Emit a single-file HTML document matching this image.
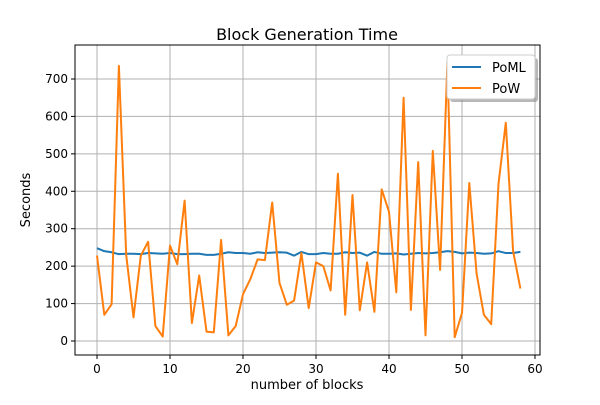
<!DOCTYPE html>
<html><head><meta charset="utf-8"><style>
body{margin:0;background:#fff;font-family:"Liberation Sans","DejaVu Sans",sans-serif}
svg text{font-family:"DejaVu Sans","Liberation Sans",sans-serif}
</style></head><body>
<svg id="c" width="600" height="400" xmlns="http://www.w3.org/2000/svg">
<rect width="600" height="400" fill="#fff"/>
<text x="307" y="40" text-anchor="middle" font-size="16">Block Generation Time</text>
<text x="307" y="389" text-anchor="middle" font-size="13">number of blocks</text>
<text x="30" y="200" text-anchor="middle" font-size="13" transform="rotate(-90 30 200)">Seconds</text>
<g id="grid"></g><g id="series"></g>
<rect x="75" y="45" width="465" height="310" fill="none" stroke="#000" stroke-width="1"/>
<g>
<rect x="450" y="58" width="88" height="44" rx="3" fill="#888" opacity="0.6"/>
<rect x="447" y="55" width="88" height="44" rx="3" fill="#fff" stroke="#ccc"/>
<line x1="452" y1="67" x2="481" y2="67" stroke="#1f77b4" stroke-width="2"/>
<text x="492" y="72" font-size="13">PoML</text>
<line x1="452" y1="88" x2="481" y2="88" stroke="#ff7f0e" stroke-width="2"/>
<text x="492" y="93" font-size="13">PoW</text>
</g>
</svg>
<script>
const xTicks=[0,10,20,30,40,50,60];
const yTicks=[0,100,200,300,400,500,600,700];
const powValues=[228,70,98,735,230,63,228,265,40,12,255,205,375,48,175,25,23,270,15,40,125,165,218,216,370,155,97,108,235,88,210,200,135,447,70,390,82,210,78,405,345,130,650,83,478,15,508,190,745,10,75,422,180,70,45,420,583,240,140];
const pomlValues=[248,240,237,232,233,233,232,235,234,233,235,232,232,233,233,230,230,233,237,235,235,233,237,235,236,237,236,228,238,232,232,235,233,233,237,235,236,228,238,233,233,234,231,233,235,234,235,237,240,238,234,236,235,233,234,240,235,235,238];
const NS="http://www.w3.org/2000/svg";
const xs=v=>97+v*7.3, ys=v=>341-v*0.3743;
const grid=document.getElementById('grid'), svg=document.getElementById('c');
function mk(t,a,p){const e=document.createElementNS(NS,t);for(const k in a)e.setAttribute(k,a[k]);p.appendChild(e);return e;}
xTicks.forEach(t=>{const x=xs(t);
const g=mk('line',{x1:x,y1:45,x2:x,y2:355,stroke:'#b0b0b0','stroke-width':1},grid);


const tk=mk('line',{x1:x,y1:355,x2:x,y2:359,stroke:'#000'},svg);


const l=mk('text',{x:x,y:373,'text-anchor':'middle','font-size':12},svg);l.textContent=t;

});
yTicks.forEach(t=>{const y=ys(t);
const g=mk('line',{x1:75,y1:y,x2:540,y2:y,stroke:'#b0b0b0','stroke-width':1},grid);


const tk=mk('line',{x1:71,y1:y,x2:75,y2:y,stroke:'#000'},svg);


const l=mk('text',{x:68,y:y+4,'text-anchor':'end','font-size':12},svg);l.textContent=t;

});
const ser=document.getElementById('series');
function line(vals,color,name){const p=mk('polyline',{points:vals.map((v,i)=>xs(i)+','+ys(v)).join(' '),fill:'none',stroke:color,'stroke-width':2,'stroke-linejoin':'round'},ser);

}
line(pomlValues,'#1f77b4','poml-line');
line(powValues,'#ff7f0e','pow-line');
</script>
</body></html>
